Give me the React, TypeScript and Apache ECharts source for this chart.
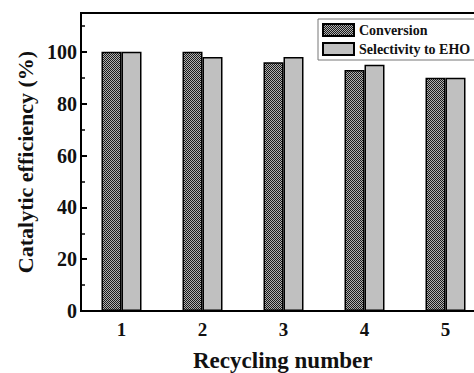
import React, { useEffect, useRef } from "react";
import * as echarts from "echarts";

const categories = ["1", "2", "3", "4", "5"];
const conversion = [100, 100, 96, 93, 90];
const selectivity = [100, 98, 98, 95, 90];
const seriesNames = ["Conversion", "Selectivity to EHO"];

const FONT = "'Liberation Serif', 'Times New Roman', serif";

function makePattern(): HTMLCanvasElement {
  const c = document.createElement("canvas");
  c.width = 2;
  c.height = 2;
  const ctx = c.getContext("2d")!;
  ctx.fillStyle = "#b0b0b0";
  ctx.fillRect(0, 0, 2, 2);
  ctx.fillStyle = "#1a1a1a";
  ctx.fillRect(0, 0, 1, 1);
  ctx.fillRect(1, 1, 1, 1);
  return c;
}

export default function App() {
  const ref = useRef<HTMLDivElement>(null);
  useEffect(() => {
    document.body.style.margin = "0";
    const chart = echarts.init(ref.current!, null, { renderer: "svg" });
    const pattern = makePattern();
    chart.setOption({
      animation: false,
      backgroundColor: "#fff",
      textStyle: { fontFamily: FONT },
      grid: {
        left: 81,
        top: 13,
        width: 405,
        height: 298,
        show: true,
        borderColor: "#000",
        borderWidth: 2,
        outerBoundsMode: "none",
      },
      legend: {
        orient: "vertical",
        left: 318,
        top: 19,
        icon: "rect",
        itemWidth: 31,
        itemHeight: 12,
        itemGap: 5,
        padding: [4, 30, 4, 4],
        borderColor: "#777",
        borderWidth: 1,
        textStyle: { fontFamily: FONT, fontWeight: "bold", fontSize: 14, color: "#111" },
        data: seriesNames,
      },
      xAxis: {
        type: "category",
        data: categories,
        axisLine: { lineStyle: { color: "#000", width: 2 } },
        axisTick: { show: false },
        axisLabel: { fontFamily: FONT, fontWeight: "bold", fontSize: 19, color: "#111", margin: 9 },
      },
      yAxis: {
        type: "value",
        min: 0,
        max: 115,
        interval: 20,
        name: "Catalytic efficiency (%)",
        nameLocation: "middle",
        nameGap: 44,
        nameTextStyle: { fontFamily: FONT, fontWeight: "bold", fontSize: 22, color: "#111" },
        splitLine: { show: false },
        axisLine: { show: true, lineStyle: { color: "#000", width: 2 } },
        axisTick: { show: true, inside: true, length: 6, lineStyle: { color: "#000", width: 2 } },
        minorTick: { show: true, splitNumber: 2, length: 4, lineStyle: { color: "#000", width: 1.5 } },
        axisLabel: {
          fontFamily: FONT,
          fontWeight: "bold",
          fontSize: 20,
          color: "#111",
          margin: 4,
          formatter: (v: number) => (v % 20 === 0 ? String(v) : ""),
        },
      },
      graphic: [
        {
          type: "text",
          left: 193,
          top: 349,
          style: {
            text: "Recycling number",
            fontFamily: FONT,
            fontWeight: "bold",
            fontSize: 23,
            fill: "#111",
          },
        },
      ],
      series: [
        {
          name: seriesNames[0],
          type: "bar",
          data: conversion,
          barWidth: 20,
          barGap: "0%",
          itemStyle: { color: { image: pattern, repeat: "repeat" }, borderColor: "#000", borderWidth: 1.5 },
        },
        {
          name: seriesNames[1],
          type: "bar",
          data: selectivity,
          barWidth: 20,
          barGap: "0%",
          itemStyle: { color: "#c0c0c0", borderColor: "#000", borderWidth: 1.5 },
        },
      ],
    });
    return () => chart.dispose();
  }, []);
  return <div ref={ref} style={{ width: 474, height: 373 }} />;
}
